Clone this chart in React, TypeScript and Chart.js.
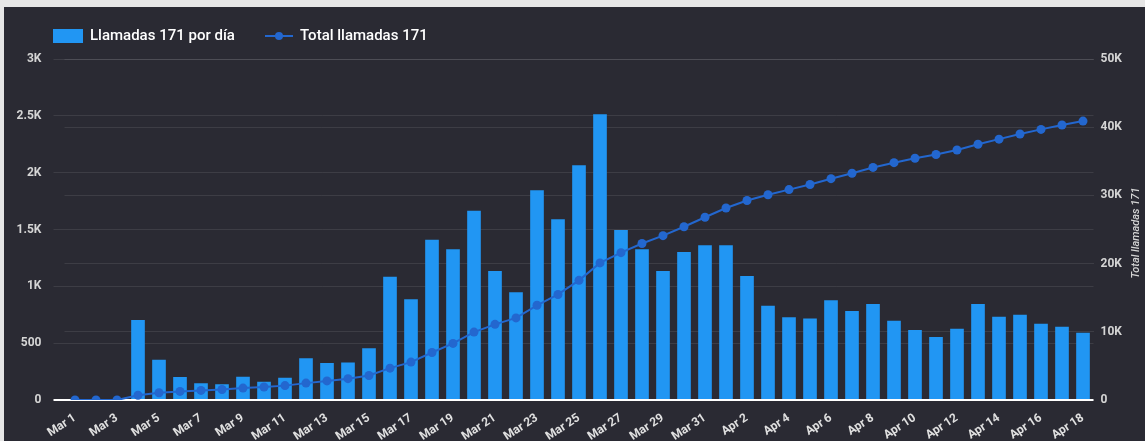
import { useEffect, useRef } from 'react';
import { Chart, registerables } from 'chart.js';

Chart.register(...registerables);

const dateLabels = [
  'Mar 1', 'Mar 2', 'Mar 3', 'Mar 4', 'Mar 5', 'Mar 6', 'Mar 7', 'Mar 8', 'Mar 9', 'Mar 10',
  'Mar 11', 'Mar 12', 'Mar 13', 'Mar 14', 'Mar 15', 'Mar 16', 'Mar 17', 'Mar 18', 'Mar 19', 'Mar 20',
  'Mar 21', 'Mar 22', 'Mar 23', 'Mar 24', 'Mar 25', 'Mar 26', 'Mar 27', 'Mar 28', 'Mar 29', 'Mar 30',
  'Mar 31', 'Apr 1', 'Apr 2', 'Apr 3', 'Apr 4', 'Apr 5', 'Apr 6', 'Apr 7', 'Apr 8', 'Apr 9',
  'Apr 10', 'Apr 11', 'Apr 12', 'Apr 13', 'Apr 14', 'Apr 15', 'Apr 16', 'Apr 17', 'Apr 18',
];

const dailyCalls = [
  0, 0, 0, 704, 355, 202, 147, 138, 205, 161,
  196, 367, 326, 331, 455, 1085, 886, 1410, 1326, 1665,
  1135, 947, 1845, 1590, 2065, 2513, 1496, 1326, 1135, 1302,
  1361, 1361, 1091, 830, 727, 716, 877, 783, 845, 698,
  616, 554, 627, 845, 733, 751, 671, 645, 592,
];

const totalCalls = [
  0, 0, 0, 704, 1059, 1261, 1408, 1546, 1751, 1912,
  2108, 2475, 2801, 3132, 3587, 4672, 5558, 6968, 8294, 9959,
  11094, 12041, 13886, 15476, 17541, 20100, 21600, 22950, 24100, 25400,
  26800, 28150, 29250, 30100, 30850, 31600, 32450, 33250, 34100, 34800,
  35450, 36000, 36650, 37500, 38250, 39000, 39680, 40320, 40900,
];

const leftTickLabels = ['0', '500', '1K', '1.5K', '2K', '2.5K', '3K'];
const rightTickLabels = ['0', '10K', '20K', '30K', '40K', '50K'];
const seriesNames = ['Llamadas 171 por día', 'Total llamadas 171'];
const rightAxisTitle = 'Total llamadas 171';

const BAR_COLOR = '#2196f3';
const LINE_COLOR = '#2367cf';
const BG = '#2a2a33';
const FONT = 'Roboto, "Noto Sans", sans-serif';
const GRID = 'rgba(255,255,255,0.09)';

const decorPlugin = {
  id: 'decor',
  afterDraw(chart: any) {
    const ctx = chart.ctx as CanvasRenderingContext2D;
    ctx.save();
    // legend
    ctx.fillStyle = BAR_COLOR;
    ctx.fillRect(49, 22, 30, 14);
    ctx.font = `500 15px ${FONT}`;
    ctx.fillStyle = '#ffffff';
    ctx.textBaseline = 'middle';
    ctx.textAlign = 'left';
    ctx.fillText(seriesNames[0], 86, 29);
    ctx.strokeStyle = LINE_COLOR;
    ctx.lineWidth = 2;
    ctx.beginPath();
    ctx.moveTo(261, 29);
    ctx.lineTo(289, 29);
    ctx.stroke();
    ctx.fillStyle = LINE_COLOR;
    ctx.beginPath();
    ctx.arc(275, 29, 4, 0, Math.PI * 2);
    ctx.fill();
    ctx.fillStyle = '#ffffff';
    ctx.fillText(seriesNames[1], 296, 29);
    // right axis title
    ctx.translate(1132, 226);
    ctx.rotate(-Math.PI / 2);
    ctx.font = `italic 500 11px ${FONT}`;
    ctx.textAlign = 'center';
    ctx.fillStyle = '#d5d5d5';
    ctx.fillText(rightAxisTitle, 0, 0);
    ctx.restore();
  },
};

export default function App() {
  const canvasRef = useRef<HTMLCanvasElement | null>(null);

  useEffect(() => {
    if (!canvasRef.current) return;
    const chart = new Chart(canvasRef.current, {
      type: 'bar',
      data: {
        labels: dateLabels,
        datasets: [
          {
            type: 'bar',
            label: seriesNames[0],
            data: dailyCalls,
            backgroundColor: BAR_COLOR,
            yAxisID: 'y',
            categoryPercentage: 1,
            barPercentage: 0.65,
            order: 2,
          },
          {
            type: 'line',
            label: seriesNames[1],
            data: totalCalls,
            borderColor: LINE_COLOR,
            backgroundColor: LINE_COLOR,
            pointBackgroundColor: LINE_COLOR,
            pointBorderWidth: 0,
            pointRadius: 4.5,
            borderWidth: 2,
            tension: 0,
            yAxisID: 'y1',
            order: 1,
          } as any,
        ],
      },
      options: {
        responsive: false,
        animation: false,
        layout: { padding: { top: 52, left: 0, right: 0, bottom: 0 } },
        plugins: {
          legend: { display: false },
          tooltip: { enabled: false },
        },
        scales: {
          x: {
            grid: { display: false },
            border: { display: false },
            ticks: {
              autoSkip: false,
              maxRotation: 33,
              minRotation: 33,
              color: '#e0e0e0',
              padding: 3,
              font: { size: 12, weight: 'bold', family: FONT },
              callback: (_v: any, i: number) => (i % 2 === 0 ? dateLabels[i] : ''),
            },
            afterFit: (s: any) => {
              s.height = 41;
            },
          },
          y: {
            position: 'left',
            min: 0,
            max: 3000,
            grid: {
              color: (c: any) => (c.tick && c.tick.value === 0 ? '#ffffff' : GRID),
              lineWidth: (c: any) => (c.tick && c.tick.value === 0 ? 2 : 1),
              drawTicks: true,
              tickLength: 11,
            },
            border: { display: false },
            ticks: {
              stepSize: 500,
              color: '#d5d5d5',
              padding: 12,
              font: { size: 12, weight: 'bold', family: FONT },
              callback: (_v: any, i: number) => leftTickLabels[i],
            },
            afterFit: (s: any) => {
              s.width = 60.5;
            },
          },
          y1: {
            position: 'right',
            min: 0,
            max: 50000,
            grid: { color: GRID, drawTicks: false },
            border: { display: false },
            ticks: {
              stepSize: 10000,
              color: '#d5d5d5',
              padding: 7,
              font: { size: 12, weight: 'bold', family: FONT },
              callback: (_v: any, i: number) => rightTickLabels[i],
            },
            afterFit: (s: any) => {
              s.width = 51.5;
            },
          },
        },
      },
      plugins: [decorPlugin],
    });
    return () => chart.destroy();
  }, []);

  return (
    <div style={{ position: 'absolute', left: 0, top: 0, width: 1145, height: 441, background: '#e6e6e6', overflow: 'hidden' }}>
      <div style={{ position: 'absolute', left: 4, top: 7, width: 1141, height: 434, background: BG }}>
        <canvas ref={canvasRef} width={1141} height={434} style={{ display: 'block' }} />
      </div>
    </div>
  );
}
